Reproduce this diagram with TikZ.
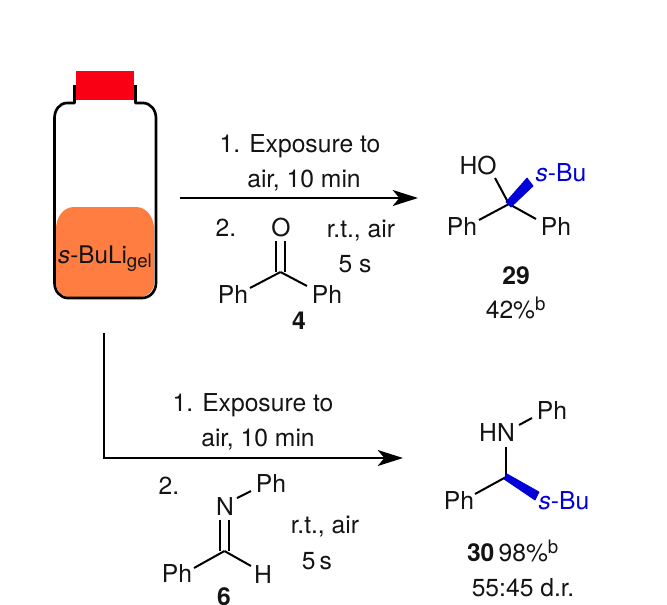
\documentclass[tikz,border=0pt]{standalone}
\usepackage{fontspec}
\setmainfont{TeX Gyre Heros}
\usetikzlibrary{arrows.meta}
\definecolor{gelorange}{RGB}{255,125,64}
\definecolor{capred}{RGB}{250,0,20}
\definecolor{wedgeblue}{RGB}{0,0,215}
\definecolor{inkgray}{RGB}{20,20,20}
\tikzset{
  lab/.style={inner sep=0.8pt,text=inkgray,text height=13.2pt,text depth=0pt,font=\fontsize{18.5pt}{22pt}\selectfont},
  blab/.style={lab,text=wedgeblue},
  bond/.style={line width=1.5pt,black},
  wedge/.style={fill=wedgeblue,draw=wedgeblue,line width=0.6pt,line join=round},
  rxn/.style={line width=1.5pt,black,-{Stealth[length=19pt,width=12pt,inset=5pt]}},
  vial/.style={line width=2pt,black}
}
\newcommand{\supb}{\textsuperscript{\fontsize{14pt}{16pt}\selectfont b}}
\begin{document}
\begin{tikzpicture}[x=0.75pt,y=-0.75pt]
\useasboundingbox (0,0) rectangle (667,604);
% vial
\fill[gelorange] (70,297) to[out=180,in=270] (56,283) -- (56,229) to[out=90,in=180] (74,207) -- (136,207) to[out=0,in=90] (154,229) -- (154,283) to[out=270,in=0] (140,297) -- cycle;
\draw[vial,line join=round] (74.5,85) -- (74.5,103) -- (67,103) to[out=180,in=90] (54.5,118) -- (54.5,283)
  to[out=270,in=180] (68,298) -- (142,298) to[out=0,in=270] (156,283) -- (156,118)
  to[out=90,in=0] (143,103) -- (135.5,103) -- (135.5,85);
\fill[capred] (76,71) rectangle (134,100);
\node[lab] (gel) at (105,255) {\fontsize{18.2pt}{22pt}\selectfont\textit{s}-BuLi\raisebox{-3pt}{\fontsize{14pt}{16pt}\selectfont gel}};
% top arrow
\coordinate (a1s) at (180,198);
\coordinate (a1e) at (418,198);
\draw[rxn] (a1s) -- (a1e);
\node[lab] (t1) at (300,144) {1. Exposure to};
\node[lab] (t2) at (304,179) {air, 10 min};
\node[lab] (t3) at (226,228) {2.};
\node[lab] (t4) at (361,229) {r.t., air};
\node[lab] (t5) at (355,264) {5 s};
% benzophenone
\coordinate (ck) at (280.5,272);
\node[lab] (ok) at (281,228) {O};
\node[lab] (phk1) at (233,295) {Ph};
\node[lab] (phk2) at (327,295) {Ph};
\node[lab] (n4) at (299,321) {\textbf{4}};
\coordinate (dk1) at (276,241);
\coordinate (dk2) at (285,241);
\coordinate (dk3) at (276,272);
\coordinate (dk4) at (285,272);
\coordinate (ek1) at (250,288);
\coordinate (ek2) at (307,286);
\draw[bond] (dk1) -- (dk3);
\draw[bond] (dk2) -- (dk4);
\draw[bond] (ck) -- (ek1);
\draw[bond] (ck) -- (ek2);
% product 29
\coordinate (c29) at (509,204);
\node[lab] (ho) at (478,166) {HO};
\node[blab] (sb29) at (561,173) {\textit{s}-Bu};
\node[lab] (ph29a) at (462,227) {Ph};
\node[lab] (ph29b) at (556,227) {Ph};
\node[lab] (n29) at (516,276) {\textbf{29}};
\node[lab] (y29) at (516,310) {42\%\supb};
\coordinate (ho29e) at (495,178);
\coordinate (e29a) at (479,220);
\coordinate (e29b) at (536,219);
\coordinate (w29a) at (533,186);
\coordinate (w29b) at (527,178);
\coordinate (w29c) at (506,202);
\coordinate (w29d) at (511,207);
\draw[bond] (c29) -- (ho29e);
\draw[bond] (c29) -- (e29a);
\draw[bond] (c29) -- (e29b);
\draw[wedge] (w29c) -- (w29b) -- (w29a) -- (w29d) -- cycle;
% lower arrow
\coordinate (a2s) at (104,333);
\coordinate (a2m) at (104,458);
\coordinate (a2e) at (403,458);
\draw[rxn] (a2s) -- (a2m) -- (a2e);
\node[lab] (u1) at (253,403) {1. Exposure to};
\node[lab] (u2) at (258,438) {air, 10 min};
\node[lab] (u3) at (169,486) {2.};
\node[lab] (u4) at (325,525) {r.t., air};
\node[lab] (u5) at (317,561) {5\,s};
% imine
\coordinate (ci) at (224.5,551);
\node[lab] (ni) at (225,507) {N};
\node[lab] (phi1) at (271,484) {Ph};
\node[lab] (phi2) at (177,574) {Ph};
\node[lab] (hi) at (263,575) {H};
\node[lab] (n6) at (224,597) {\textbf{6}};
\coordinate (di1) at (220,520);
\coordinate (di2) at (229,520);
\coordinate (di3) at (220,551);
\coordinate (di4) at (229,551);
\coordinate (ni1) at (237,498);
\coordinate (ni2) at (251,491);
\coordinate (ei1) at (194,568);
\coordinate (ei2) at (251,566);
\draw[bond] (di1) -- (di3);
\draw[bond] (di2) -- (di4);
\draw[bond] (ni1) -- (ni2);
\draw[bond] (ci) -- (ei1);
\draw[bond] (ci) -- (ei2);
% product 30
\coordinate (c30) at (506,477);
\node[lab] (hn) at (497,433) {HN};
\node[lab] (ph30a) at (552,411) {Ph};
\node[lab] (ph30b) at (459,501) {Ph};
\node[blab] (sb30) at (564,501) {\textit{s}-Bu};
\node[lab] (n30) at (513,553) {\textbf{30}\,98\%\supb};
\node[lab] (dr) at (523,588) {55:45 d.r.};
\coordinate (hn30a) at (519,425);
\coordinate (hn30b) at (532,418);
\coordinate (hn30c) at (506,447);
\coordinate (e30) at (475,494);
\coordinate (w30a) at (539,492);
\coordinate (w30b) at (535,500);
\coordinate (w30c) at (507,474);
\coordinate (w30d) at (504,479);
\draw[bond] (hn30a) -- (hn30b);
\draw[bond] (c30) -- (hn30c);
\draw[bond] (c30) -- (e30);
\draw[wedge] (w30c) -- (w30a) -- (w30b) -- (w30d) -- cycle;
\end{tikzpicture}
\end{document}
